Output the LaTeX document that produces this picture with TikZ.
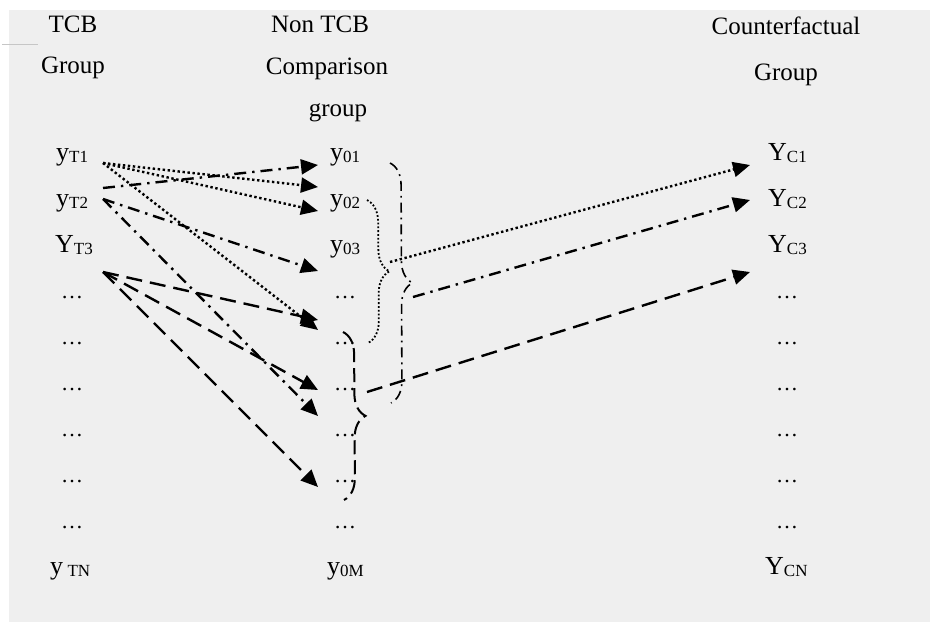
\documentclass[tikz,border=0pt]{standalone}
\usepackage{fontspec}
\setmainfont{Liberation Serif}
\usetikzlibrary{arrows.meta,decorations.pathreplacing}
\definecolor{panel}{RGB}{239,239,239}
% outcome label: large letter with a smaller, slightly lowered index
\newcommand\vlab[2]{{\fontsize{26}{28}\selectfont #1}\raisebox{-2pt}{\fontsize{17}{18}\selectfont #2}}

\begin{document}
\begin{tikzpicture}[x=1pt,y=-1pt,
  hd/.style={anchor=base,font=\fontsize{25}{27}\selectfont,inner sep=0pt},
  lb/.style={anchor=base west,inner sep=0pt},
  el/.style={anchor=base,font=\fontsize{22}{24}\selectfont,inner sep=0pt},
  conn/.style={line width=2.4pt,-{Triangle[length=17pt,width=15pt]}},
  dotline/.style={dash pattern=on 2.4pt off 2.6pt},
  dashdotline/.style={dash pattern=on 12pt off 6pt on 2.4pt off 6pt},
  longdash/.style={dash pattern=on 16pt off 8pt},
  bracepath/.style={decorate,decoration={brace,amplitude=22pt}},
]
\useasboundingbox (0,0) rectangle (930,622);
\fill[panel] (9,10) rectangle (930,622);
\draw[gray!45,line width=0.5pt] (2,44) -- (38,44);

% column headings
\node[hd] (h1a) at (73,32) {TCB};
\node[hd] (h1b) at (73,73) {Group};
\node[hd] (h2a) at (320,32) {Non TCB};
\node[hd] (h2b) at (327,74) {Comparison};
\node[hd] (h2c) at (338,116) {group};
\node[hd] (h3a) at (786,34) {Counterfactual};
\node[hd] (h3b) at (786,80) {Group};

% treated units
\node[lb] (t1) at (56,160) {\vlab{y}{T1}};
\node[lb] (t2) at (56,206) {\vlab{y}{T2}};
\node[lb] (t3) at (55,252) {\vlab{Y}{T3}};
\foreach \r in {3,...,8}{\node[el] (td\r) at (72,{160+46*\r}) {…};}
\node[lb] (tn) at (50,574) {\vlab{y\,}{TN}};

% comparison units
\node[lb] (c1) at (330,160) {\vlab{y}{01}};
\node[lb] (c2) at (330,206) {\vlab{y}{02}};
\node[lb] (c3) at (330,252) {\vlab{y}{03}};
\foreach \r in {3,...,8}{\node[el] (cd\r) at (345,{160+46*\r}) {…};}
\node[lb] (cm) at (327,574) {\vlab{y}{0M}};

% counterfactual units
\node[lb] (f1) at (768,160) {\vlab{Y}{C1}};
\node[lb] (f2) at (768,206) {\vlab{Y}{C2}};
\node[lb] (f3) at (768,252) {\vlab{Y}{C3}};
\foreach \r in {3,...,8}{\node[el] (fd\r) at (787,{160+46*\r}) {…};}
\node[lb] (fn) at (765,574) {\vlab{Y}{CN}};

% connector ends
\coordinate (s1) at (103,163);
\coordinate (s2a) at (103,188);
\coordinate (s2) at (103,199);
\coordinate (s3) at (103,272);
\coordinate (e1) at (318,165);
\coordinate (e2) at (318,187);
\coordinate (e3) at (318,211);
\coordinate (e4) at (318,271);
\coordinate (e5) at (318,320);
\coordinate (e6) at (318,330);
\coordinate (e7) at (318,390);
\coordinate (e8) at (318,416);
\coordinate (e9) at (318,487);

% matches from treated to comparison units
\draw[conn,dashdotline] (s2a) -- (e1);
\draw[conn,dotline] (s1) -- (e2);
\draw[conn,dotline] (s1) -- (e3);
\draw[conn,dashdotline] (s2) -- (e4);
\draw[conn,longdash] (s3) -- (e5);
\draw[conn,dotline] (s1) -- (e6);
\draw[conn,longdash] (s3) -- (e7);
\draw[conn,dashdotline] (s2) -- (e8);
\draw[conn,longdash] (s3) -- (e9);

% groups of matched comparison units
\coordinate (b1t) at (367,200);
\coordinate (b1b) at (368,343);
\coordinate (b2t) at (390,163);
\coordinate (b2b) at (391,403);
\coordinate (b3t) at (343,332);
\coordinate (b3b) at (344,500);
\draw[bracepath,line width=1.8pt,dash pattern=on 1.8pt off 2pt] (b1t) -- (b1b);
\draw[bracepath,line width=1.6pt,dash pattern=on 10pt off 5pt on 1.8pt off 5pt] (b2t) -- (b2b);
\draw[bracepath,line width=2pt,dash pattern=on 14pt off 6pt] (b3t) -- (b3b);

% groups feeding the counterfactual units
\coordinate (g1) at (390,262);
\coordinate (g2) at (413,297);
\coordinate (g3) at (367,392);
\coordinate (k1) at (750,165);
\coordinate (k2) at (750,200);
\coordinate (k3) at (750,272);
\draw[conn,dotline] (g1) -- (k1);
\draw[conn,dashdotline] (g2) -- (k2);
\draw[conn,longdash] (g3) -- (k3);
\end{tikzpicture}
\end{document}
